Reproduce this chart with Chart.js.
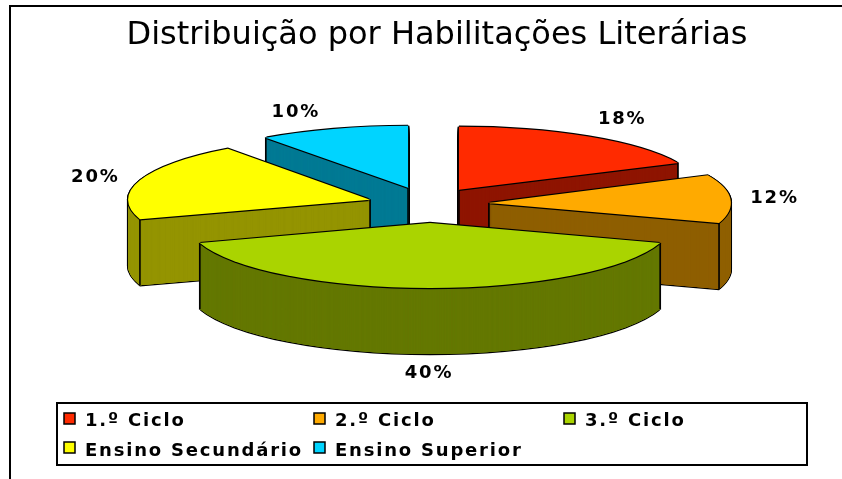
<!DOCTYPE html>
<html><head><meta charset="utf-8">
<style>html,body{margin:0;padding:0;background:#fff}#w{position:relative;width:842px;height:479px}</style>
<script src="https://cdn.jsdelivr.net/npm/chart.js@4"></script>
</head><body><div id="w"><canvas id="c" width="842" height="479"></canvas></div>
<script>
const categories = ['1.º Ciclo','2.º Ciclo','3.º Ciclo','Ensino Secundário','Ensino Superior'];
const percentages = [18,12,40,20,10];
const topColors = ['#FF2A00','#FFAA00','#AAD400','#FFFF00','#00D4FF'];
const sideColors = ['#8F1500','#8F5F00','#647800','#949400','#007A94'];
const explodeOut = [54,59,67,63,71];
const sliceRy = [63,65,65,63,62];
const sliceLift = [-2,0,1,1,2];
const labelNudge = [[5,-3],[-9,0],[-1,5],[6,2],[-21,0]];
const paintOrder = [4,0,3,1,2];
const title = 'Distribuição por Habilitações Literárias';

const RX=242, RY=65, DEPTH=66, CX=430, CY=204;
const OUT_FONT='bold 18px "DejaVu Sans"';

function center(arc,i){
  const p=arc.getProps(['startAngle','endAngle']);
  const mid=(p.startAngle+p.endAngle)/2;
  return [CX+Math.cos(mid)*explodeOut[i],CY+Math.sin(mid)*explodeOut[i]*RY/RX+sliceLift[i],mid,p.startAngle,p.endAngle];
}
function paint(ctx,arc,i,color,lift,ox,oy){
  const o=arc.options, p=arc.getProps(['x','y','outerRadius']), q=center(arc,i);
  arc.options=Object.assign({},o,{backgroundColor:color,borderWidth:0});
  ctx.save();
  ctx.translate(q[0]+(ox||0),q[1]+lift+(oy||0));
  ctx.scale(RX/p.outerRadius,sliceRy[i]/p.outerRadius);
  ctx.translate(-p.x,-p.y);
  arc.draw(ctx);ctx.restore();
  arc.options=o;
}
const pie3d={
  id:'pie3d',
  beforeDraw(chart){
    const c=chart.ctx;c.save();c.fillStyle='#fff';c.fillRect(0,0,842,479);
    c.strokeStyle='#000';c.lineWidth=2;c.beginPath();c.moveTo(842,6);c.lineTo(10,6);c.lineTo(10,479);c.stroke();c.restore();
  },
  beforeDatasetsDraw(chart){
    const c=chart.ctx, arcs=chart.getDatasetMeta(0).data;
    paintOrder.forEach(i=>{
      const a=arcs[i];
      for(let d=0;d<=DEPTH;d+=1){paint(c,a,i,'#000',d,-1.2,0);paint(c,a,i,'#000',d,1.2,0);}
      paint(c,a,i,'#000',DEPTH+1.2,0,0);
      for(let pass=0;pass<3;pass++)for(let d=DEPTH;d>=0;d-=0.5)paint(c,a,i,sideColors[i],d);
      const [ax,ay,,sa,ea]=center(a,i);
      const pts=[[ax,ay]];
      if(Math.cos(sa)<0||Math.sin(sa)>0)pts.push([ax+Math.cos(sa)*RX,ay+Math.sin(sa)*sliceRy[i]]);
      if(Math.cos(ea)>0||Math.sin(ea)>0)pts.push([ax+Math.cos(ea)*RX,ay+Math.sin(ea)*sliceRy[i]]);
      c.save();c.strokeStyle='#000';c.lineWidth=1.6;c.beginPath();
      pts.forEach(q=>{c.moveTo(q[0],q[1]);c.lineTo(q[0],q[1]+DEPTH);});
      c.stroke();c.restore();
      [[-1.2,0],[1.2,0],[0,-1.2],[0,1.2]].forEach(o=>paint(c,a,i,'#000',0,o[0],o[1]));
      paint(c,a,i,topColors[i],0);
    });
    return false;
  },
  afterDraw(chart){
    const c=chart.ctx, arcs=chart.getDatasetMeta(0).data;
    c.save();c.fillStyle='#000';c.font=OUT_FONT;c.letterSpacing='1.8px';c.textAlign='center';c.textBaseline='middle';
    arcs.forEach((a,i)=>{
      const [ax,ay,mid]=center(a,i);
      const low=Math.sin(mid)>0.5?DEPTH:0;
      c.fillText(percentages[i]+'%',ax+Math.cos(mid)*RX*1.22+labelNudge[i][0],ay+Math.sin(mid)*RY*1.22+low+labelNudge[i][1]);
    });
    c.strokeStyle='#000';c.lineWidth=2;c.fillStyle='#fff';c.fillRect(57,403,750,62);c.strokeRect(57,403,750,62);
    c.textAlign='left';
    const step=250;
    categories.forEach((t,i)=>{
      const col=i%3,row=Math.floor(i/3),x=64+col*step,y=413+row*29;
      c.fillStyle=topColors[i];c.fillRect(x,y,11,11);c.strokeStyle='#000';c.lineWidth=1.5;c.strokeRect(x,y,11,11);
      c.fillStyle='#000';c.fillText(t,x+21,y+8+row);
    });
    c.restore();
  }
};
new Chart(document.getElementById('c'),{
  type:'pie',
  data:{labels:categories,datasets:[{data:percentages,backgroundColor:topColors,borderWidth:0,clip:false}]},
  options:{responsive:false,animation:false,radius:170,
    layout:{padding:{left:32}},
    plugins:{legend:{display:false},tooltip:{enabled:false},
      title:{display:true,text:title,color:'#000',font:{family:'"DejaVu Sans"',size:32,weight:'normal'},padding:{top:16,bottom:8}}}
  },
  plugins:[pie3d]
});
</script></body></html>
